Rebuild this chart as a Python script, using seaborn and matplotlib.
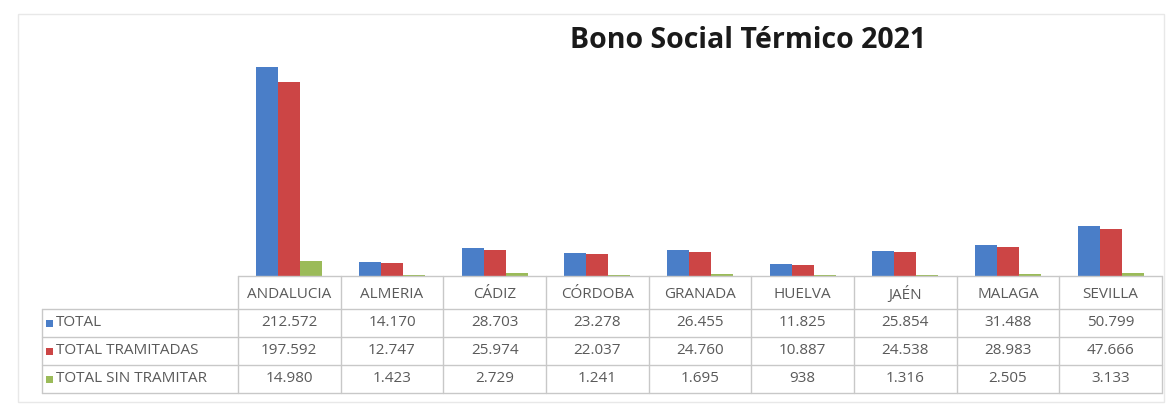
import matplotlib
matplotlib.use("Agg")
import matplotlib.pyplot as plt
import matplotlib.transforms as mtransforms
from matplotlib.lines import Line2D
from matplotlib.patches import Rectangle
import seaborn as sns
import pandas as pd

# datos
provincias = ["ANDALUCIA", "ALMERIA", "CÁDIZ", "CÓRDOBA", "GRANADA",
              "HUELVA", "JAÉN", "MALAGA", "SEVILLA"]
total = [212572, 14170, 28703, 23278, 26455, 11825, 25854, 31488, 50799]
tramitadas = [197592, 12747, 25974, 22037, 24760, 10887, 24538, 28983, 47666]
sin_tramitar = [14980, 1423, 2729, 1241, 1695, 938, 1316, 2505, 3133]
series = ["TOTAL", "TOTAL TRAMITADAS", "TOTAL SIN TRAMITAR"]
colores = ["#4A7EC8", "#CC4545", "#9BBB59"]
valores = [total, tramitadas, sin_tramitar]

df = pd.DataFrame({
    "provincia": provincias * 3,
    "serie": [s for s in series for _ in provincias],
    "valor": total + tramitadas + sin_tramitar,
})

sns.set_theme(style="white")
plt.rcParams["font.family"] = ["Open Sans", "DejaVu Sans"]

W, H = 1166, 405
fig = plt.figure(figsize=(W / 100, H / 100), dpi=100)


def fx(px):
    return px / W


def fy(py):
    return 1 - py / H


ax = fig.add_axes([fx(238), fy(276), fx(1162) - fx(238), fy(30) - fy(276)])
sns.barplot(data=df, x="provincia", y="valor", hue="serie", palette=colores,
            width=0.64, saturation=1, legend=False, linewidth=0,
            edgecolor="none", ax=ax)
ax.set_xlim(-0.5, len(provincias) - 0.5)
ax.set_ylim(0, 250000)
ax.set_axis_off()

# borde del gráfico
fig.add_artist(Rectangle((fx(18), fy(402)), fx(1164) - fx(18), fy(14) - fy(402),
                         transform=fig.transFigure, fill=False,
                         edgecolor="#e8e8e8", linewidth=1))

fig.text(fx(748), fy(40), "Bono Social Térmico 2021", ha="center", va="center",
         fontsize=20.5, fontweight="bold", color="#1a1a1a")

# tabla de datos
trans = mtransforms.blended_transform_factory(ax.transData, fig.transFigure)
lc = "#c8c8c8"
filas = [276, 309, 337, 365, 393]
n = len(provincias)

for i in range(n + 1):
    ax.plot([i - 0.5, i - 0.5], [fy(276), fy(393)], color=lc, lw=1,
            transform=trans, clip_on=False)
ax.plot([-0.5, n - 0.5], [fy(276), fy(276)], color=lc, lw=1,
        transform=trans, clip_on=False)
for yy in filas[1:]:
    fig.add_artist(Line2D([fx(42), fx(1162)], [fy(yy), fy(yy)],
                          transform=fig.transFigure, color=lc, lw=1))
fig.add_artist(Line2D([fx(42), fx(42)], [fy(309), fy(393)],
                      transform=fig.transFigure, color=lc, lw=1))

tc = "#5a5a5a"
fs = 11
for i, p in enumerate(provincias):
    ax.text(i, fy(294), p, ha="center", va="center", fontsize=fs,
            color=tc, transform=trans)

for r, (nombre, vals, col) in enumerate(zip(series, valores, colores)):
    yc = (filas[r + 1] + filas[r + 2]) / 2
    for i, v in enumerate(vals):
        ax.text(i, fy(yc), f"{v:,}".replace(",", "."), ha="center",
                va="center", fontsize=fs, color=tc, transform=trans)
    fig.add_artist(Rectangle((fx(46), fy(yc + 3.5)), fx(7), fy(0) - fy(7),
                             transform=fig.transFigure, color=col, lw=0))
    fig.text(fx(56), fy(yc), nombre, ha="left", va="center", fontsize=fs,
             color=tc)

plt.savefig("out.png", dpi=100)
